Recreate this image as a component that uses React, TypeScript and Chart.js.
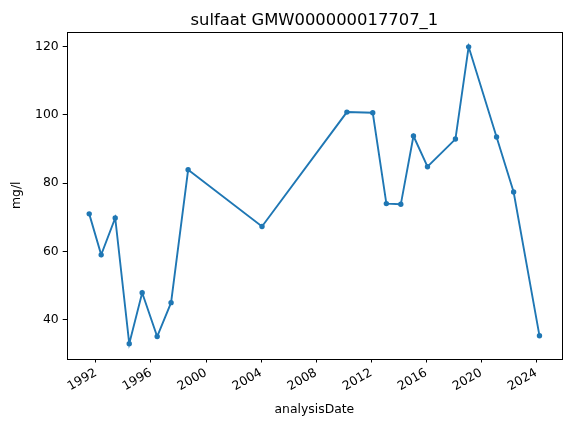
import React, { useEffect, useRef } from "react";
import { Chart, registerables } from "chart.js";

Chart.register(...registerables);

// Decimal years of each analysis date
const analysisDates = [
  1991.51, 1992.38, 1993.4, 1994.42, 1995.36, 1996.45, 1997.46, 1998.7,
  2004.07, 2010.24, 2012.12, 2013.11, 2014.16, 2015.08, 2016.1, 2018.13,
  2019.09, 2021.12, 2022.36, 2024.24,
];
const sulfaatValues = [
  71.0, 59.0, 69.8, 33.0, 47.9, 35.1, 45.0, 83.9, 67.3, 100.8, 100.6, 74.0,
  73.8, 93.8, 84.8, 92.9, 119.9, 93.5, 77.4, 35.3,
];
const xTickValues = [1992, 1996, 2000, 2004, 2008, 2012, 2016, 2020, 2024];
const xTickLabels = ["1992", "1996", "2000", "2004", "2008", "2012", "2016", "2020", "2024"];
const yTickValues = [40, 60, 80, 100, 120];
const yTickLabels = ["40", "60", "80", "100", "120"];

const titleText = "sulfaat GMW000000017707_1";
const xLabel = "analysisDate";
const yLabel = "mg/l";

const FONT = "'DejaVu Sans', sans-serif";

function paddedRange(vals: number[]) {
  const mn = Math.min(...vals);
  const mx = Math.max(...vals);
  const r = mx - mn;
  return [mn - 0.05 * r, mx + 0.05 * r];
}

export default function App() {
  const ref = useRef<HTMLCanvasElement | null>(null);

  useEffect(() => {
    document.body.style.margin = "0";
    const canvas = ref.current;
    if (!canvas) return;
    const [xMin, xMax] = paddedRange(analysisDates);
    const [yMin, yMax] = paddedRange(sulfaatValues);

    const framePlugin = {
      id: "frameAndTitle",
      afterDraw(chart: any) {
        const { ctx, chartArea } = chart;
        ctx.save();
        ctx.strokeStyle = "#000";
        ctx.lineWidth = 1;
        ctx.strokeRect(
          Math.round(chartArea.left) + 0.5,
          Math.round(chartArea.top) + 0.5,
          Math.round(chartArea.right - chartArea.left),
          Math.round(chartArea.bottom - chartArea.top)
        );
        ctx.fillStyle = "#000";
        ctx.font = `16.4px ${FONT}`;
        ctx.textAlign = "center";
        ctx.textBaseline = "alphabetic";
        ctx.fillText(titleText, (chartArea.left + chartArea.right) / 2, 24.5);
        ctx.restore();
      },
    };

    const chart = new Chart(canvas, {
      type: "line",
      data: {
        datasets: [
          {
            data: analysisDates.map((x, i) => ({ x, y: sulfaatValues[i] })),
            borderColor: "#1f77b4",
            backgroundColor: "#1f77b4",
            borderWidth: 1.9,
            pointRadius: 2.7,
            pointBorderWidth: 0,
            pointBackgroundColor: "#1f77b4",
            tension: 0,
            fill: false,
          },
        ],
      },
      options: {
        responsive: false,
        animation: false,
        devicePixelRatio: 1,
        layout: { padding: { top: 32, right: 9, left: 0, bottom: 6 } },
        plugins: {
          legend: { display: false },
          tooltip: { enabled: false },
          title: { display: false },
        },
        scales: {
          x: {
            type: "linear",
            min: xMin,
            max: xMax,
            afterBuildTicks: (s: any) => {
              s.ticks = xTickValues.map((v) => ({ value: v }));
            },
            afterFit: (s: any) => {
              s.height = 62.5;
            },
            grid: {
              drawOnChartArea: false,
              drawTicks: true,
              tickLength: 4,
              color: "#000",
              lineWidth: 1,
            },
            border: { display: false },
            ticks: {
              autoSkip: false,
              minRotation: 30,
              maxRotation: 30,
              padding: 3,
              color: "#000",
              font: { family: FONT, size: 12.4 },
              callback: (_v: any, i: number) => xTickLabels[i],
            },
            title: {
              display: true,
              text: xLabel,
              color: "#000",
              font: { family: FONT, size: 12.4 },
              padding: { top: 4, bottom: 4 },
            },
          },
          y: {
            type: "linear",
            min: yMin,
            max: yMax,
            afterBuildTicks: (s: any) => {
              s.ticks = yTickValues.map((v) => ({ value: v }));
            },
            afterFit: (s: any) => {
              s.width = 66.7;
            },
            grid: {
              drawOnChartArea: false,
              drawTicks: true,
              tickLength: 4,
              color: "#000",
              lineWidth: 1,
            },
            border: { display: false },
            ticks: {
              padding: 4,
              color: "#000",
              font: { family: FONT, size: 12.4 },
              callback: (_v: any, i: number) => yTickLabels[i],
            },
            title: {
              display: true,
              text: yLabel,
              color: "#000",
              font: { family: FONT, size: 12.4 },
              padding: { top: 9.6, bottom: 4 },
            },
          },
        },
      },
      plugins: [framePlugin],
    } as any);

    return () => chart.destroy();
  }, []);

  return <canvas ref={ref} width={571} height={427} style={{ display: "block" }} />;
}
